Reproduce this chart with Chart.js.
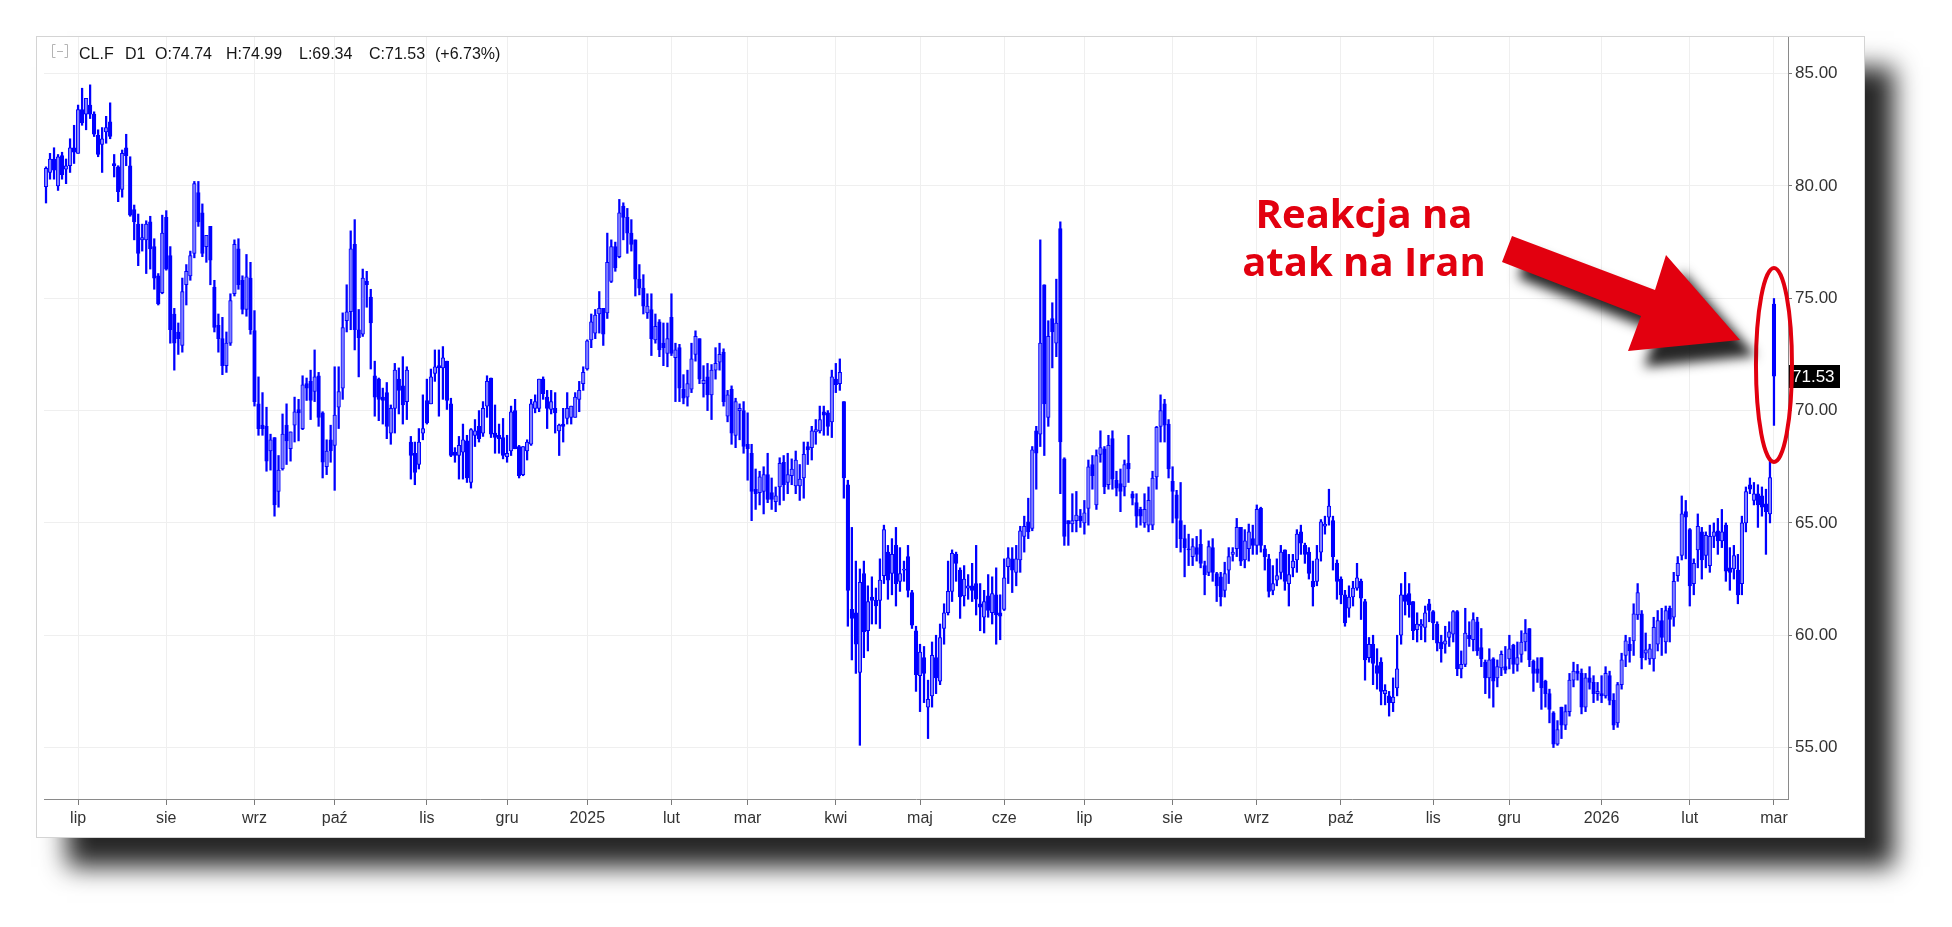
<!DOCTYPE html>
<html>
<head>
<meta charset="utf-8">
<title>CL.F D1</title>
<script src="https://cdn.jsdelivr.net/npm/chart.js"></script>
<style>
html,body{margin:0;padding:0;background:#fff;overflow:hidden;}
canvas{display:block;}
</style>
</head>
<body>
<canvas id="c" width="1952" height="927"></canvas>
<script>
// ---- Data (daily OHLC, late Jun 2024 .. 2 Mar 2026) ----
const opens = [
79.97,80.6,81.2,80.0,81.35,80.75,80.9,81.7,
81.45,83.4,83.2,83.6,83.2,82.25,81.85,82.4,82.85,81.0,80.85,79.85,81.7,80.9,78.95,78.3,77.6,77.6,78.4,77.3,76.0,75.25,
78.6,76.9,74.3,73.5,72.9,75.6,76.0,77.0,79.7,78.8,77.3,78.2,75.5,73.8,73.2,72.0,73.0,75.2,77.2,75.8,74.5,75.9,
73.56,70.3,69.35,69.3,68.2,68.8,66.4,67.4,69.35,68.3,69.35,70.05,69.2,71.2,71.3,70.85,71.55,69.9,67.5,68.7,
68.45,70.15,71.0,74.0,74.4,77.4,73.6,73.4,75.75,75.05,71.55,71.4,70.6,70.8,69.0,70.1,71.4,71.1,70.4,68.6,68.1,67.6,69.0,
70.45,70.3,71.65,72.0,71.9,72.2,70.3,68.15,68.0,68.15,68.65,66.8,68.9,69.3,69.0,70.2,71.45,69.0,68.9,68.8,
67.95,68.2,70.0,68.4,67.15,68.2,68.5,70.1,70.1,71.4,70.6,70.05,70.1,69.1,69.4,69.65,69.7,69.7,70.5,71.2,
71.85,73.15,73.45,74.3,74.55,74.35,75.75,77.3,76.85,79.1,78.6,77.9,77.6,75.85,75.45,74.35,74.5,73.15,73.95,73.0,72.55,
74.15,72.35,72.8,70.95,70.6,70.95,72.5,73.2,71.2,71.5,70.7,71.8,72.15,72.6,69.75,70.95,68.9,70.0,70.0,
68.5,68.1,66.5,66.35,66.4,67.15,66.35,65.95,66.6,67.7,66.8,67.1,66.65,66.65,67.0,68.4,68.35,69.05,69.1,69.95,69.9,69.5,
71.4,71.2,70.4,66.7,61.15,61.0,58.35,62.75,60.2,61.7,61.55,61.55,62.65,63.7,62.75,64.0,62.4,62.9,63.5,61.9,60.2,
58.2,59.0,56.8,57.3,59.0,57.95,60.3,61.0,61.95,63.6,62.9,61.75,62.1,62.2,62.3,61.4,60.8,61.75,61.0,61.8,61.0,
61.15,63.05,63.4,62.8,63.35,64.4,65.05,64.75,69.1,68.95,75.6,69.7,74.1,73.0,78.1,67.85,65.1,64.95,65.1,65.3,
65.0,65.65,67.6,65.8,68.05,68.3,66.7,68.75,66.9,66.75,66.6,67.65,66.3,65.9,65.6,65.0,64.9,64.9,67.05,69.3,70.3,69.4,
66.85,66.25,65.1,64.3,63.85,63.5,63.9,64.05,63.1,62.8,63.9,62.75,62.6,62.0,62.9,63.6,63.85,64.8,63.35,63.85,64.3,
64.0,65.65,63.85,63.4,62.0,62.45,62.8,63.8,62.3,63.0,63.35,64.6,64.0,63.7,62.4,62.4,63.7,64.85,65.25,65.1,63.2,
62.5,61.8,61.2,61.7,62.1,62.4,61.5,59.0,59.6,58.65,58.8,57.4,57.3,57.0,57.65,60.0,61.8,61.85,61.5,60.25,60.4,60.35,61.4,
61.05,60.5,59.7,59.6,59.9,60.05,61.05,58.5,58.7,60.0,59.8,60.6,59.45,58.8,58.1,58.95,58.1,58.55,58.6,
58.95,59.55,58.7,59.15,59.7,60.3,58.85,58.5,59.0,57.95,57.4,56.55,55.15,56.8,56.0,56.6,58.0,58.4,58.3,56.8,58.1,57.9,57.4,
57.4,57.3,58.2,57.1,56.1,57.8,59.1,59.6,59.75,60.9,60.95,59.2,58.95,58.95,59.6,60.65,59.7,61.2,60.8,62.65,63.55,65.5,
64.7,62.3,63.8,64.6,63.55,63.1,64.4,64.65,64.2,64.9,63.0,62.95,62.9,62.3,65.0,66.7,66.0,66.3,66.2,65.85,65.4,
74.74
];
const highs = [
80.85,81.45,81.7,81.4,81.5,81.2,82.1,82.7,
83.6,84.35,83.9,84.5,83.3,82.5,82.6,83.1,83.7,81.4,80.9,81.6,82.3,81.3,79.15,78.75,78.3,78.45,78.65,77.65,76.1,78.7,
78.9,77.3,74.55,73.9,75.9,76.5,77.1,80.2,80.2,79.2,77.8,78.2,75.8,74.3,74.15,73.5,75.2,77.6,77.65,76.0,76.95,76.6,
74.45,71.5,70.8,70.15,68.95,68.8,68.0,69.85,70.3,69.05,70.6,70.5,71.55,71.45,71.8,72.7,71.7,69.95,68.7,69.35,
71.95,71.95,74.35,75.6,78.0,78.5,74.5,76.3,76.2,75.4,72.2,71.45,71.0,71.25,70.25,72.1,71.9,72.4,71.95,68.85,68.6,69.2,70.7,
71.4,71.85,72.7,72.7,72.85,72.2,70.55,68.35,68.85,69.4,68.9,69.2,69.6,70.0,70.4,71.55,71.45,70.25,69.4,69.65,
68.9,70.2,70.5,68.45,68.4,68.7,70.5,70.7,71.4,71.5,70.9,70.9,70.8,69.4,70.1,70.8,70.2,70.8,71.3,71.95,
73.15,74.3,74.5,75.3,74.55,77.9,77.6,77.5,79.4,79.25,79.0,78.5,77.6,76.5,76.05,75.2,75.2,74.3,74.05,73.9,73.9,
75.2,73.0,72.95,71.6,71.8,73.0,73.55,73.2,72.0,72.1,72.05,72.8,73.0,72.75,70.9,71.1,70.55,70.3,70.4,
69.9,68.5,67.4,67.3,67.5,68.1,67.0,66.6,67.9,68.0,68.1,67.85,68.2,67.6,68.6,68.6,69.3,69.6,70.2,70.2,70.0,71.8,
72.1,72.3,70.4,66.9,64.8,63.3,62.95,63.3,62.2,62.6,62.1,63.4,64.9,64.0,64.3,64.8,63.9,63.3,64.0,62.0,60.4,
59.6,59.5,58.0,59.7,60.0,60.5,61.4,63.3,63.8,63.7,63.0,63.1,62.7,63.2,64.0,62.3,62.0,62.7,62.6,63.0,61.8,
63.4,63.9,63.9,64.0,64.85,65.3,66.1,68.4,69.3,77.6,75.6,74.0,74.8,75.85,78.4,67.9,65.1,66.3,66.4,65.6,
66.0,67.8,68.0,68.25,69.1,68.4,68.9,69.1,67.3,67.4,67.8,68.9,66.4,66.3,65.7,66.3,66.6,67.3,69.3,70.7,70.5,69.6,
67.5,66.45,66.8,64.9,64.5,64.3,64.4,64.7,63.3,64.2,64.3,62.8,62.8,63.25,63.9,63.9,65.2,64.8,64.7,64.95,64.9,
65.8,65.7,64.0,63.6,63.1,63.4,64.0,63.8,63.6,63.6,64.7,64.9,64.1,63.9,63.3,64.0,65.15,65.3,66.5,65.3,63.35,
62.6,62.0,62.2,62.4,63.2,62.5,61.6,59.9,60.0,59.4,59.0,57.8,57.5,58.1,60.0,62.3,62.8,62.3,61.5,61.0,60.7,61.3,61.6,
61.1,60.6,60.0,60.4,60.6,61.1,61.1,59.3,61.2,60.6,61.0,60.8,60.3,58.9,59.4,59.0,58.9,59.3,59.5,
60.0,59.6,59.7,60.2,60.7,60.3,58.9,59.0,59.0,58.0,57.6,56.6,56.2,56.8,56.9,58.3,58.8,58.7,58.5,58.3,58.6,58.2,57.9,
58.2,58.6,58.4,57.4,57.9,59.2,60.0,59.9,61.4,62.3,61.1,60.1,59.6,60.8,61.1,61.2,61.3,61.3,62.8,63.5,66.2,66.0,
64.75,63.4,65.4,64.8,64.6,64.9,65.0,65.2,65.6,65.0,63.9,64.0,63.6,65.3,66.6,67.0,66.8,66.7,66.6,66.5,67.9,
74.99
];
const lows = [
79.24,80.3,80.3,79.8,80.3,80.1,80.6,81.0,
81.45,82.7,82.5,83.0,82.2,81.3,80.6,81.9,82.1,80.4,79.3,79.5,80.9,78.65,77.6,76.45,77.1,76.1,76.3,75.4,74.7,75.2,
76.25,73.0,71.8,72.5,72.6,74.7,75.8,76.8,78.2,76.85,76.6,75.6,73.5,72.6,71.6,71.7,72.9,75.1,75.4,74.3,74.2,73.4,
70.2,68.9,68.9,67.3,67.35,65.3,65.7,67.35,67.6,67.75,68.6,68.65,69.15,70.45,69.6,70.4,69.3,67.0,67.15,67.7,
66.45,69.2,70.5,73.5,73.6,72.7,71.5,73.3,74.6,71.85,69.75,69.55,69.4,68.75,68.5,69.0,69.85,69.4,69.6,66.95,66.7,67.4,68.7,
69.4,70.3,71.3,69.75,70.5,70.05,67.95,67.7,66.95,66.95,66.8,66.55,68.4,68.6,68.85,69.7,68.8,68.1,68.1,67.85,
67.7,68.0,68.3,67.0,67.1,67.8,68.45,69.9,69.95,70.5,69.2,69.85,69.0,68.0,68.6,69.4,69.4,69.7,69.95,70.9,
71.8,72.8,73.2,73.45,72.9,74.1,75.7,76.2,76.8,77.6,77.0,77.1,75.1,75.15,74.3,74.1,72.45,73.0,72.4,72.0,71.95,
72.45,70.4,70.4,70.3,70.2,70.8,72.2,71.2,70.6,70.0,69.6,71.4,71.8,70.2,69.5,68.5,68.35,68.7,68.1,
66.9,65.1,65.6,65.8,65.4,65.9,65.6,65.5,65.8,66.0,66.3,66.7,66.3,66.0,66.1,67.6,67.8,68.5,69.0,68.9,68.9,68.8,
70.8,70.9,66.1,60.4,58.9,58.3,55.1,59.0,59.3,60.5,60.5,60.3,62.3,61.6,61.8,61.3,61.95,62.4,61.7,60.3,57.5,
56.6,57.0,55.4,56.8,57.4,57.8,59.6,60.9,61.5,62.4,60.75,61.3,61.6,61.5,60.9,60.2,60.1,60.8,60.5,59.6,59.8,
61.1,62.3,61.9,62.2,62.8,63.7,64.3,64.65,66.5,68.4,68.0,69.3,71.9,72.4,66.3,64.0,64.0,64.6,64.6,64.8,
64.5,64.9,66.5,65.6,67.7,66.3,66.5,66.5,66.2,65.5,66.2,66.8,65.8,64.8,64.9,64.8,64.6,64.7,66.5,68.6,68.6,67.0,
65.0,63.9,63.7,62.6,63.1,63.1,63.3,63.0,61.8,62.65,62.4,61.5,61.3,61.7,62.3,63.3,63.5,63.1,63.0,63.3,63.6,
63.6,63.7,62.9,61.7,61.8,62.2,62.5,62.0,61.3,62.6,62.8,63.6,63.2,62.5,61.3,62.2,63.3,64.5,64.9,62.9,61.6,
61.4,60.4,60.8,61.3,62.0,60.7,58.0,58.8,57.8,57.6,56.9,56.9,56.4,56.6,57.3,59.6,60.9,60.8,59.8,59.7,59.8,59.7,60.6,
59.8,59.3,58.8,59.2,59.5,59.7,58.2,58.1,58.6,59.5,59.3,59.1,58.6,57.4,57.2,56.8,57.7,58.2,58.3,
58.5,58.3,58.4,58.8,59.3,58.6,57.5,57.9,56.7,56.8,56.1,55.0,55.1,55.4,55.8,56.4,57.7,58.0,56.5,56.6,57.6,57.0,57.1,
57.0,57.2,56.9,55.8,55.9,57.6,58.6,58.8,59.1,60.7,58.5,58.9,58.7,58.4,59.3,59.1,59.2,59.7,60.4,62.4,63.35,63.4,
61.3,61.8,63.0,62.5,63.0,62.8,63.9,63.6,63.9,62.4,62.0,62.5,61.4,61.8,64.6,66.3,65.8,64.8,65.3,63.6,65.0,
69.34
];
const closes = [
80.78,81.2,80.7,81.3,80.5,80.9,81.7,81.5,
83.4,82.8,83.9,83.2,82.3,81.4,82.1,82.6,82.2,80.9,79.75,81.45,81.35,78.7,78.4,77.0,77.7,78.3,77.2,75.9,74.75,77.9,
76.3,73.6,73.0,73.2,75.3,76.2,76.9,80.1,78.4,77.0,77.8,76.7,73.7,73.2,72.0,73.0,74.9,77.4,75.6,74.5,75.95,73.6,
70.4,69.2,69.2,67.75,68.7,65.8,67.35,68.95,68.65,69.05,69.95,69.9,71.15,71.0,70.45,71.5,69.7,67.7,68.2,68.2,
69.8,70.85,73.7,74.4,77.2,73.6,73.25,75.9,75.6,73.9,70.6,70.5,70.45,69.3,70.1,71.8,70.9,70.25,71.8,68.0,67.25,68.6,69.2,
69.45,71.5,71.95,71.9,72.35,70.45,68.0,68.0,68.45,68.7,67.0,69.15,69.1,68.75,70.1,71.3,68.95,68.8,68.75,68.0,
68.1,69.95,68.3,67.1,68.4,68.6,70.3,70.4,71.4,70.75,70.1,70.4,69.9,69.35,69.3,70.1,70.2,70.6,70.9,71.7,
73.1,73.95,74.25,74.55,73.4,76.6,77.3,76.35,78.8,78.6,77.9,77.4,75.85,75.45,74.65,74.65,73.2,73.75,72.7,72.8,73.2,
72.55,72.7,71.0,70.55,71.2,72.3,73.3,71.4,71.35,70.7,71.8,72.1,72.5,70.4,70.7,69.0,70.4,70.1,68.4,
68.3,66.4,66.3,67.05,67.15,66.05,66.05,66.2,67.65,66.7,67.15,67.4,67.8,66.95,68.05,68.25,69.1,69.15,69.6,69.8,69.3,71.5,
71.15,71.7,67.0,62.0,60.75,59.6,62.35,60.15,61.5,61.55,61.3,62.45,64.7,62.45,63.6,62.3,62.75,62.95,62.0,60.45,58.25,
59.25,58.3,57.15,59.1,58.1,59.9,61.0,61.95,63.65,63.2,61.7,62.5,62.2,62.0,61.6,61.25,61.5,61.1,61.85,60.9,60.85,
62.55,63.45,62.9,63.4,64.65,64.85,64.6,68.25,68.1,73.0,70.3,73.3,73.5,73.9,68.6,64.4,64.95,65.1,65.35,65.1,
65.45,67.5,67.1,68.0,68.35,66.6,68.45,66.95,66.55,66.4,67.6,67.4,66.1,65.3,65.3,65.6,66.0,67.0,69.25,70.0,69.35,67.4,
66.4,65.2,64.3,63.9,63.8,63.95,63.6,63.2,62.7,63.95,62.8,62.2,61.7,62.75,63.5,63.7,64.8,63.3,64.2,64.6,64.0,
65.6,64.0,63.5,61.95,62.3,62.65,63.7,62.4,62.7,63.3,64.5,64.1,63.6,62.75,62.15,63.4,65.05,64.95,65.75,63.5,62.4,
61.8,60.55,61.7,62.1,62.55,61.65,58.9,59.6,58.75,58.3,57.5,57.55,57.0,57.25,58.5,61.8,61.5,61.35,60.2,60.5,60.5,61.0,61.1,
60.55,59.65,59.4,59.75,60.15,61.05,58.5,58.7,60.1,59.85,60.7,59.3,58.95,58.1,58.9,57.95,58.6,59.15,58.45,
59.4,58.7,59.0,59.7,60.1,58.9,58.3,58.3,57.65,57.4,56.7,55.15,55.8,56.0,56.6,58.0,58.4,58.3,56.8,58.1,57.9,57.4,57.5,
57.3,58.3,57.1,56.0,57.8,58.9,59.75,59.3,60.95,61.9,59.0,59.35,59.4,60.35,60.65,59.9,61.1,60.7,62.4,63.2,65.4,65.25,
62.2,63.2,64.85,63.35,64.45,64.4,64.6,64.2,64.6,62.85,62.8,63.55,61.8,65.0,66.4,66.5,66.3,65.8,65.7,65.5,67.02,
71.53
];
// first bar of each month (index into the arrays) and its axis label
const monthStarts = [8,30,52,72,95,115,135,156,175,197,218,239,259,281,302,323,346,365,388,410,431];
const monthLabels = ['lip','sie','wrz','paź','lis','gru','2025','lut','mar','kwi','maj','cze','lip','sie','wrz','paź','lis','gru','2026','lut','mar'];
const priceTicks = [55,60,65,70,75,80,85];
const symbolName = 'CL.F';
const timeframe = 'D1';
const noteLines = ['Reakcja na', 'atak na Iran'];

// ---- derived ----
const N = Math.min(opens.length, highs.length, lows.length, closes.length);
const idx = Array.from({length: N}, (_, i) => i);
const wickData = idx.map(i => ({x: i, y: [lows[i], highs[i]]}));
const bodyData = idx.map(i => ({x: i, y: [opens[i], closes[i]]}));
const BLUE = '#0000ff';
const bodyFill = idx.map(i => closes[i] >= opens[i] ? '#8080ff' : BLUE);

const FONT = '"Liberation Sans", Arial, Helvetica, sans-serif';
const W = 1952, H = 927;
const PLOT_RIGHT = 1788, PLOT_BOTTOM = 799;
const Y_W = 64, X_H = 34;
const RED = '#e2000f';

const panelPlugin = {
  id: 'panel',
  beforeDraw(chart) {
    const ctx = chart.ctx;
    ctx.save();
    ctx.fillStyle = '#fff';
    ctx.fillRect(0, 0, W, H);
    ctx.shadowColor = 'rgba(0,0,0,0.85)';
    ctx.shadowBlur = 24;
    ctx.shadowOffsetX = 30;
    ctx.shadowOffsetY = 30;
    ctx.fillStyle = '#fff';
    ctx.fillRect(37, 37, 1827, 800);
    ctx.restore();
    ctx.save();
    ctx.strokeStyle = '#d4d4d4';
    ctx.lineWidth = 1;
    ctx.strokeRect(36.5, 36.5, 1828, 801);
    ctx.restore();
  }
};

const overlayPlugin = {
  id: 'overlay',
  afterDraw(chart) {
    const ctx = chart.ctx;
    const xs = chart.scales.x, ys = chart.scales.y;
    const last = N - 1;
    const pct = (closes[last] / closes[last - 1] - 1) * 100;

    // header line
    ctx.save();
    ctx.strokeStyle = '#b4b4b4';
    ctx.lineWidth = 1;
    ctx.beginPath();
    ctx.moveTo(55.5, 44.5); ctx.lineTo(52.5, 44.5); ctx.lineTo(52.5, 57.5); ctx.lineTo(55.5, 57.5);
    ctx.moveTo(64.5, 44.5); ctx.lineTo(67.5, 44.5); ctx.lineTo(67.5, 57.5); ctx.lineTo(64.5, 57.5);
    ctx.moveTo(57, 51.5); ctx.lineTo(63, 51.5);
    ctx.stroke();
    ctx.font = '16px ' + FONT;
    ctx.textBaseline = 'middle';
    ctx.textAlign = 'left';
    ctx.fillStyle = '#151515';
    const parts = [
      [79, symbolName],
      [125, timeframe],
      [155, 'O:' + opens[last].toFixed(2)],
      [226, 'H:' + highs[last].toFixed(2)],
      [299, 'L:' + lows[last].toFixed(2)],
      [369, 'C:' + closes[last].toFixed(2)],
      [435, '(' + (pct >= 0 ? '+' : '') + pct.toFixed(2) + '%)']
    ];
    parts.forEach(p => ctx.fillText(p[1], p[0], 55));
    ctx.restore();

    // last price tag
    const py = ys.getPixelForValue(closes[last]);
    ctx.save();
    ctx.fillStyle = '#000';
    ctx.fillRect(1789, Math.round(py) - 11, 51, 23);
    ctx.fillStyle = '#fff';
    ctx.font = '17px ' + FONT;
    ctx.textBaseline = 'middle';
    ctx.textAlign = 'left';
    ctx.fillText(closes[last].toFixed(2), 1792, Math.round(py) + 1);
    ctx.restore();

    // red ellipse around the last candle
    const ex = xs.getPixelForValue(last);
    ctx.save();
    ctx.strokeStyle = RED;
    ctx.lineWidth = 4;
    ctx.beginPath();
    ctx.ellipse(ex, 365, 18, 97, 0, 0, Math.PI * 2);
    ctx.stroke();
    ctx.restore();

    // arrow with drop shadow
    ctx.save();
    ctx.shadowColor = 'rgba(0,0,0,0.85)';
    ctx.shadowBlur = 12;
    ctx.shadowOffsetX = 16;
    ctx.shadowOffsetY = 16;
    ctx.fillStyle = RED;
    ctx.beginPath();
    ctx.moveTo(1512, 236);
    ctx.lineTo(1655, 290);
    ctx.lineTo(1666, 255);
    ctx.lineTo(1740, 340);
    ctx.lineTo(1628, 351);
    ctx.lineTo(1641, 316);
    ctx.lineTo(1502, 262);
    ctx.closePath();
    ctx.fill();
    ctx.restore();

    // annotation text
    ctx.save();
    ctx.fillStyle = RED;
    ctx.font = 'bold 40px "Open Sans", "DejaVu Sans", sans-serif';
    ctx.textAlign = 'center';
    ctx.textBaseline = 'alphabetic';
    ctx.fillText(noteLines[0], 1364, 228);
    ctx.fillText(noteLines[1], 1364, 276);
    ctx.restore();
  }
};

new Chart(document.getElementById('c'), {
  type: 'bar',
  data: {
    datasets: [
      {data: bodyData, backgroundColor: bodyFill, borderColor: BLUE, borderWidth: 1,
       borderSkipped: false, barThickness: 3.6, minBarLength: 1, grouped: false, order: 1},
      {data: wickData, backgroundColor: BLUE, borderWidth: 0,
       barThickness: 1.6, grouped: false, order: 2}
    ]
  },
  options: {
    responsive: false,
    animation: false,
    events: [],
    layout: {padding: {left: 44, top: 37, right: W - PLOT_RIGHT - Y_W, bottom: H - PLOT_BOTTOM - X_H}},
    plugins: {legend: {display: false}, tooltip: {enabled: false}},
    scales: {
      x: {
        type: 'linear', min: -0.5, max: N - 0.5 + 3, offset: false,
        afterBuildTicks: s => { s.ticks = monthStarts.map(v => ({value: v})); },
        afterFit: s => { s.height = X_H; },
        ticks: {
          autoSkip: false, maxRotation: 0, minRotation: 0, padding: 4,
          color: '#333', font: {size: 16, family: FONT},
          callback: v => { const k = monthStarts.indexOf(v); return k >= 0 ? monthLabels[k] : ''; }
        },
        grid: {color: '#efefef', tickColor: '#7a7a7a', tickLength: 6, offset: false},
        border: {color: '#8a8a8a', width: 1}
      },
      y: {
        position: 'right', min: 52.71, max: 86.63,
        afterBuildTicks: s => { s.ticks = priceTicks.map(v => ({value: v})); },
        afterFit: s => { s.width = Y_W; },
        ticks: {padding: 3, color: '#333', font: {size: 17, family: FONT}, callback: v => Number(v).toFixed(2)},
        grid: {color: '#efefef', tickColor: '#7a7a7a', tickLength: 4},
        border: {color: '#8a8a8a', width: 1}
      }
    }
  },
  plugins: [panelPlugin, overlayPlugin]
});
</script>
</body>
</html>
